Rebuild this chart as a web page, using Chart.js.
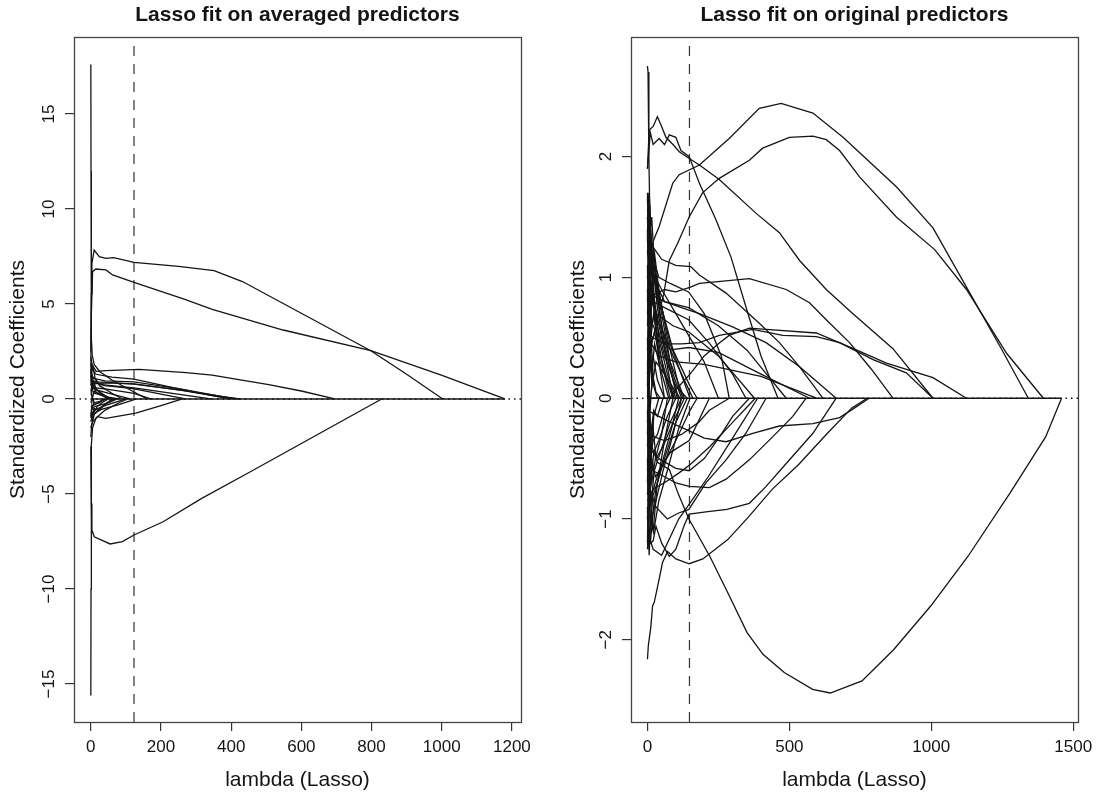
<!DOCTYPE html>
<html>
<head>
<meta charset="utf-8">
<script src="https://cdn.jsdelivr.net/npm/chart.js@4.4.1/dist/chart.umd.min.js"></script>
<style>
  body { margin: 0; background: #fff; }
  #wrap { position: relative; width: 1104px; height: 793px; }
  canvas { position: absolute; top: 0; }
</style>
</head>
<body>
<div id="wrap">
  <canvas id="avgChart" width="552" height="793" style="left:0"></canvas>
  <canvas id="origChart" width="552" height="793" style="left:552px"></canvas>
</div>
<script>
// ---- left panel: lasso on averaged predictors ----
const avgXTicks = [0, 200, 400, 600, 800, 1000, 1200];
const avgYTicks = [-15, -10, -5, 0, 5, 10, 15];
const avgCvLambda = 123;
const avgMaxLambda = 1180;

// [lambda, coefficient] pairs
const avgPathA = [[0, 2.5], [1.5, 5.5], [3, 7.14], [9.5, 7.84], [24, 7.49], [43, 7.4], [65, 7.44], [123, 7.19], [250, 6.98], [351, 6.75], [432, 6.18], [798, 2.54], [900, 1.3], [1003, 0]];
const avgPathB = [[0, 2.0], [1.5, 4.5], [5, 6.7], [14, 6.84], [43, 6.79], [62, 6.53], [123, 6.14], [266, 5.25], [346, 4.72], [548, 3.63], [798, 2.54], [999, 1.26], [1180, 0]];
const avgPathC = [[0, -2.5], [1.5, -5.5], [3, -6.9], [9.7, -7.25], [55, -7.63], [90, -7.51], [123, -7.16], [206, -6.46], [316, -5.23], [447, -3.91], [829, 0]];
const avgPathUp = [[0, 17.6], [0.5, 12], [1, 6], [1.8, 3.2], [4, 2.3], [10, 1.8], [25, 1.45], [60, 1.0], [110, 0.5], [160, 0]];
const avgPathDown = [[0, -15.6], [0.5, -10], [1, -5], [2, -2.4], [5, -1.5], [15, -1.0], [40, -0.6], [80, -0.2], [105, 0]];
const avgPathE = [[0, 2.2], [4, 1.8], [15, 1.45], [43, 1.49], [138, 1.56], [271, 1.39], [346, 1.26], [413, 1.04], [507, 0.76], [600, 0.42], [695, 0]];
const avgMinor = [
  [[0, 2.0], [3, 1.6], [15, 1.3], [60, 1.15], [123, 1.05], [228, 0.62], [361, 0.12], [427, 0]],
  [[0, 1.8], [4, 1.2], [20, 0.9], [123, 0.78], [256, 0.47], [420, 0]],
  [[0, 1.5], [5, 1.0], [30, 0.75], [123, 0.58], [342, 0]],
  [[0, 1.2], [5, 0.9], [40, 0.7], [120, 0.55], [200, 0.25], [270, 0]],
  [[0, 1.0], [8, 0.6], [50, 0.5], [123, 0.3], [171, 0]],
  [[0, 0.8], [10, 0.5], [60, 0.25], [112, 0]],
  [[0, 1.6], [2, 0.9], [15, 0.35], [50, 0.1], [80, 0]],
  [[0, 0.6], [10, 0.3], [40, 0.15], [60, 0]],
  [[0, 1.4], [5, 1.1], [40, 0.95], [123, 0.9], [250, 0.55], [410, 0]],
  [[0, 0.9], [6, 0.8], [50, 0.85], [123, 0.8], [260, 0.45], [400, 0]],
  [[0, -1.5], [5, -1.2], [19, -0.93], [43, -1.02], [128, -0.75], [200, -0.35], [261, 0]],
  [[0, -1.2], [5, -0.8], [30, -0.55], [80, -0.3], [130, 0]],
  [[0, -0.9], [8, -0.6], [40, -0.35], [100, 0]],
  [[0, -0.6], [10, -0.4], [50, -0.2], [75, 0]],
  [[0, -2.0], [2, -1.4], [10, -0.8], [40, -0.3], [60, 0]],
  [[0, -0.4], [15, -0.25], [40, 0]],
  [[0, 0.3], [10, -0.2], [30, -0.1], [45, 0]],
  [[0, -0.2], [10, 0.4], [30, 0.2], [50, 0]],
  [[0, 0.5], [8, -0.3], [25, -0.2], [35, 0]],
  [[0, 1.3], [3, 0.4], [8, 0.9], [16, 0.5], [30, 0.3], [55, 0]],
  [[0, -1.0], [3, -0.3], [9, -0.7], [18, -0.4], [35, -0.15], [50, 0]],
  [[0, 0.7], [4, 1.1], [10, 0.6], [22, 0.4], [45, 0.1], [65, 0]],
  [[0, -0.7], [4, -1.1], [10, -0.5], [20, -0.6], [45, -0.2], [70, 0]],
  [[0, 1.9], [2, 1.4], [6, 1.7], [12, 1.1], [25, 0.7], [60, 0.3], [90, 0]]
];

// ---- right panel: lasso on original predictors ----
const origXTicks = [0, 500, 1000, 1500];
const origYTicks = [-2, -1, 0, 1, 2];
const origCvLambda = 148;
const origMaxLambda = 1459;

const origHumpOuter = [[0, 1.0], [20, 1.3], [41, 1.42], [89, 1.78], [112, 1.85], [183, 1.93], [288, 2.15], [394, 2.40], [471, 2.44], [583, 2.36], [689, 2.16], [877, 1.75], [1006, 1.41], [1124, 0.92], [1242, 0.43], [1342, 0]];
const origHumpInner = [[0, 0.3], [30, 0.6], [58, 0.87], [77, 1.14], [106, 1.28], [147, 1.5], [194, 1.7], [253, 1.82], [359, 1.97], [406, 2.07], [500, 2.16], [583, 2.17], [630, 2.14], [677, 2.05], [748, 1.83], [877, 1.5], [1012, 1.23], [1124, 0.9], [1266, 0.37], [1395, 0]];
const origSteep = [[0, 1.9], [10, 2.2], [20, 2.1], [41, 2.15], [60, 2.1], [77, 2.18], [100, 2.16], [118, 2.05], [147, 2.0], [183, 1.78], [241, 1.48], [294, 1.17], [353, 0.71], [400, 0.35], [460, 0]];
const origLong = [[0, 1.9], [6, 2.22], [20, 2.25], [35, 2.33], [50, 2.25], [65, 2.16], [90, 2.1], [112, 2.04], [150, 1.98], [183, 1.93], [253, 1.81], [383, 1.53], [465, 1.37], [536, 1.14], [630, 0.9], [724, 0.7], [865, 0.41], [1006, 0]];
const origSpike = [[0, 2.75], [2, 2.7], [5, 2.0], [10, 1.3], [20, 0.8], [40, 0.3], [60, 0]];
const origTrough = [[0, -0.3], [35, -0.53], [77, -0.59], [110, -0.8], [146, -1.0], [220, -1.31], [283, -1.61], [351, -1.94], [407, -2.12], [482, -2.27], [582, -2.41], [644, -2.44], [756, -2.34], [868, -2.08], [998, -1.72], [1129, -1.31], [1279, -0.78], [1403, -0.32], [1459, 0]];
const origLow = [[0, -2.16], [3, -2.05], [12, -1.89], [18, -1.72], [24, -1.69], [41, -1.5], [53, -1.36], [71, -1.27], [100, -1.33], [147, -1.37], [195, -1.33], [283, -1.17], [357, -0.98], [441, -0.75], [532, -0.55], [630, -0.3], [720, -0.08], [774, 0]];
const origMid = [
  [[0, 0.6], [20, 0.85], [34, 0.87], [60, 0.9], [100, 0.88], [152, 0.92], [183, 0.95], [359, 0.99], [489, 0.9], [571, 0.79], [630, 0.65], [712, 0.46], [789, 0.24], [865, 0]],
  [[0, 0], [80, 0], [100, 0.07], [150, 0.2], [200, 0.35], [250, 0.45], [288, 0.52], [359, 0.58], [418, 0.57], [595, 0.54], [736, 0.4], [842, 0.29], [1006, 0.17], [1124, 0]],
  [[0, 0.55], [20, 0.5], [60, 0.45], [120, 0.45], [183, 0.46], [253, 0.52], [371, 0.57], [477, 0.52], [595, 0.51], [677, 0.46], [795, 0.32], [912, 0.21], [1006, 0]],
  [[0, 1.4], [20, 1.25], [50, 1.15], [100, 1.1], [152, 1.09], [183, 1.02], [277, 0.87], [394, 0.62], [465, 0.46], [536, 0.26], [618, 0]],
  [[0, 1.5], [15, 1.2], [40, 1.0], [80, 0.95], [145, 0.88], [200, 0.7], [260, 0.35], [288, 0]],
  [[0, 1.1], [20, 0.8], [60, 0.75], [145, 0.65], [220, 0.45], [300, 0.2], [347, 0]],
  [[0, 0.9], [30, 0.7], [90, 0.6], [145, 0.55], [250, 0.35], [377, 0]],
  [[0, 1.3], [20, 1.0], [60, 0.8], [145, 0.75], [250, 0.6], [350, 0.4], [489, 0]],
  [[0, 0.7], [30, 0.55], [80, 0.4], [145, 0.42], [250, 0.38], [400, 0.2], [571, 0]],
  [[0, 0.5], [40, 0.35], [100, 0.3], [200, 0.28], [400, 0.18], [595, 0]],
  [[0, 1.0], [20, 0.85], [60, 0.8], [120, 0.75], [183, 0.7], [300, 0.59], [418, 0.46], [536, 0.26], [665, 0]],
  [[0, 1.2], [15, 1.05], [50, 0.9], [100, 0.7], [150, 0.5], [200, 0.3], [250, 0]],
  [[0, -1.0], [10, -1.2], [20, -1.18], [30, -1.06], [50, -1.2], [77, -1.31], [100, -1.25], [130, -1.05], [147, -0.96], [206, -0.94], [280, -0.92], [359, -0.87], [418, -0.73], [489, -0.54], [583, -0.29], [665, 0]],
  [[0, -0.5], [20, -0.6], [60, -0.65], [100, -0.7], [147, -0.73], [218, -0.74], [277, -0.67], [359, -0.51], [441, -0.32], [512, -0.15], [559, 0]],
  [[0, -0.7], [30, -0.9], [70, -1.0], [110, -0.95], [146, -0.92], [206, -0.7], [277, -0.51], [347, -0.29], [418, 0]],
  [[0, -1.1], [20, -1.25], [50, -1.3], [80, -1.15], [110, -1.0], [146, -0.88], [214, -0.65], [300, -0.33], [388, 0]],
  [[0, -0.1], [40, -0.15], [100, -0.22], [147, -0.27], [200, -0.33], [277, -0.36], [371, -0.29], [465, -0.23], [583, -0.21], [677, -0.16], [730, -0.08], [781, 0]],
  [[0, -0.4], [40, -0.5], [100, -0.58], [147, -0.6], [200, -0.5], [260, -0.3], [300, -0.15], [359, 0]],
  [[0, -0.95], [15, -0.8], [40, -0.6], [80, -0.45], [147, -0.35], [218, 0]],
  [[0, -0.3], [60, -0.35], [120, -0.3], [180, -0.2], [218, -0.1], [288, 0]],
  [[0, -0.85], [20, -0.75], [60, -0.7], [110, -0.62], [150, -0.55], [220, -0.4], [300, -0.2], [380, 0]]
];
const origMinor = [
  [[0, 1.65], [4, 1.3], [8, 1.6], [14, 1.2], [25, 0.8], [40, 0.5], [70, 0.2], [100, 0]],
  [[0, 1.55], [5, 1.7], [10, 1.4], [18, 1.1], [30, 0.9], [50, 0.6], [90, 0.2], [120, 0]],
  [[0, 1.4], [3, 1.0], [8, 1.35], [15, 1.5], [22, 1.2], [35, 0.85], [60, 0.45], [90, 0.15], [110, 0]],
  [[0, 1.2], [5, 1.45], [12, 1.0], [20, 1.25], [30, 0.95], [50, 0.7], [80, 0.3], [130, 0]],
  [[0, 1.0], [6, 1.3], [12, 0.9], [25, 1.1], [45, 0.8], [80, 0.45], [150, 0]],
  [[0, 0.8], [4, 1.1], [10, 0.7], [20, 0.9], [35, 0.6], [60, 0.35], [100, 0.1], [140, 0]],
  [[0, 0.6], [5, 0.9], [12, 0.5], [22, 0.7], [40, 0.4], [70, 0.15], [95, 0]],
  [[0, 0.4], [6, 0.75], [14, 0.45], [25, 0.55], [45, 0.3], [75, 0.1], [90, 0]],
  [[0, 0.2], [5, 0.5], [10, 0.25], [20, 0.35], [35, 0.15], [60, 0]],
  [[0, 0.0], [4, 0.35], [9, -0.1], [18, 0.2], [30, 0.05], [45, 0]],
  [[0, -0.2], [5, 0.1], [12, -0.3], [22, -0.1], [35, -0.15], [55, 0]],
  [[0, -0.4], [4, -0.1], [10, -0.5], [20, -0.35], [35, -0.3], [60, -0.1], [80, 0]],
  [[0, -0.6], [5, -0.3], [12, -0.7], [22, -0.45], [40, -0.35], [70, -0.15], [100, 0]],
  [[0, -0.8], [5, -0.55], [12, -0.9], [24, -0.6], [45, -0.45], [80, -0.2], [120, 0]],
  [[0, -1.0], [4, -0.7], [10, -1.05], [20, -0.8], [35, -0.7], [60, -0.5], [100, -0.2], [140, 0]],
  [[0, -1.1], [6, -1.25], [12, -0.95], [22, -1.1], [40, -0.85], [70, -0.6], [110, -0.25], [150, 0]],
  [[0, -1.25], [4, -1.05], [10, -1.2], [20, -0.95], [35, -0.8], [55, -0.6], [90, -0.3], [120, 0]],
  [[0, -0.9], [3, -1.2], [8, -0.8], [16, -1.0], [30, -0.75], [50, -0.55], [85, -0.25], [110, 0]],
  [[0, 0.9], [3, 0.5], [8, 0.95], [15, 0.6], [28, 0.75], [50, 0.5], [85, 0.2], [105, 0]],
  [[0, 1.5], [4, 1.1], [9, 1.45], [16, 1.05], [25, 1.2], [40, 0.9], [70, 0.5], [110, 0.1], [125, 0]],
  [[0, 1.7], [3, 1.35], [7, 1.65], [12, 1.3], [20, 1.1], [35, 0.75], [60, 0.4], [90, 0]],
  [[0, 0.3], [4, -0.2], [9, 0.4], [16, 0.1], [30, 0.3], [60, 0.2], [100, 0.05], [115, 0]],
  [[0, -0.3], [4, 0.2], [10, -0.45], [18, -0.2], [30, -0.5], [55, -0.4], [90, -0.2], [130, 0]],
  [[0, 0.5], [3, 0.1], [8, 0.6], [15, 0.2], [25, 0.45], [45, 0.25], [75, 0]],
  [[0, -0.5], [3, -0.9], [8, -0.4], [15, -0.7], [28, -0.5], [50, -0.3], [70, 0]],
  [[0, 1.1], [3, 0.7], [7, 1.2], [13, 0.8], [25, 1.0], [50, 0.75], [90, 0.4], [150, 0.1], [175, 0]],
  [[0, -0.7], [3, -0.3], [8, -0.8], [15, -0.5], [28, -0.65], [55, -0.55], [100, -0.35], [150, -0.1], [175, 0]],
  [[0, 0.7], [4, 1.0], [9, 0.6], [18, 0.85], [32, 0.65], [55, 0.55], [90, 0.35], [140, 0.1], [160, 0]],
  [[0, 1.3], [2, 1.6], [6, 1.1], [11, 1.4], [18, 0.9], [30, 0.6], [55, 0.25], [80, 0]],
  [[0, -1.2], [2, -0.9], [6, -1.3], [11, -1.0], [20, -1.1], [35, -0.7], [60, -0.35], [90, 0]],
  [[0, 0.1], [3, 0.6], [7, 0.2], [13, 0.5], [22, 0.1], [35, 0]],
  [[0, -0.1], [3, -0.6], [7, -0.2], [13, -0.5], [22, -0.15], [40, 0]]
];

const FONT = "'Liberation Sans', Arial, Helvetica, sans-serif";
const INK = '#141414';

function fmt(v) {
    return String(v).replace('-', '\u2212');
}

function lineDs(path, extra) {
    return Object.assign({
        data: path.map(p => ({ x: p[0], y: p[1] })),
        showLine: true,
        borderColor: INK,
        borderWidth: 1.3,
        pointRadius: 0,
        tension: 0,
        fill: false
    }, extra || {});
}

// box, title and rotated y tick labels (R style)
const panelDecor = {
    id: 'panelDecor',
    afterDraw(chart, args, opts) {
        const ctx = chart.ctx;
        const a = chart.chartArea;
        ctx.save();
        ctx.strokeStyle = '#444';
        ctx.lineWidth = 1.3;
        ctx.strokeRect(Math.round(a.left) + 0.5, Math.round(a.top) + 0.5, Math.round(a.right - a.left), Math.round(a.bottom - a.top));

        ctx.fillStyle = INK;
        ctx.textAlign = 'center';
        ctx.textBaseline = 'middle';
        ctx.font = 'bold 21px ' + FONT;
        ctx.fillText(opts.title, (a.left + a.right) / 2, 15);

        const ys = chart.scales.y;
        ctx.font = '17px ' + FONT;
        ys.ticks.forEach(t => {
            const py = ys.getPixelForValue(t.value);
            ctx.save();
            ctx.translate(opts.yLabelX, py);
            ctx.rotate(-Math.PI / 2);
            ctx.fillText(fmt(t.value), 0, 0);
            ctx.restore();
        });
        ctx.restore();
    }
};

function makePanel(id, p) {
    const datasets = p.paths.map(path => lineDs(path));
    datasets.push(lineDs([[0, 0], [p.maxLambda, 0]]));
    datasets.push(lineDs([[p.xMin, 0], [p.xMax, 0]], { borderDash: [1.5, 4] }));
    datasets.push(lineDs([[p.cv, p.yMin], [p.cv, p.yMax]], { borderDash: [10, 8], borderColor: '#333', borderWidth: 1.2 }));

    const tickGrid = { display: true, drawOnChartArea: false, drawTicks: true, tickLength: 9, color: '#333', lineWidth: 1.2 };

    new Chart(document.getElementById(id).getContext('2d'), {
        type: 'scatter',
        data: { datasets: datasets },
        options: {
            responsive: false,
            animation: false,
            layout: { padding: { top: 37, right: p.padRight, left: 0, bottom: 0 } },
            plugins: {
                legend: { display: false },
                tooltip: { enabled: false },
                panelDecor: { title: p.title, yLabelX: p.yLabelX }
            },
            scales: {
                x: {
                    type: 'linear',
                    min: p.xMin,
                    max: p.xMax,
                    afterBuildTicks: s => { s.ticks = p.xTicks.map(v => ({ value: v })); },
                    afterFit: s => { s.height = 71; },
                    ticks: { autoSkip: false, maxRotation: 0, padding: 6, color: INK, font: { family: FONT, size: 17 }, callback: v => fmt(v) },
                    grid: tickGrid,
                    border: { display: false },
                    title: { display: true, text: 'lambda (Lasso)', color: INK, font: { family: FONT, size: 21 }, padding: { top: 0, bottom: 0.5 } }
                },
                y: {
                    type: 'linear',
                    min: p.yMin,
                    max: p.yMax,
                    afterBuildTicks: s => { s.ticks = p.yTicks.map(v => ({ value: v })); },
                    afterFit: s => { s.width = p.yWidth; },
                    ticks: { display: false },
                    grid: tickGrid,
                    border: { display: false },
                    title: { display: true, text: 'Standardized Coefficients', color: INK, font: { family: FONT, size: 21 }, padding: { top: p.yTitlePad, bottom: 0 } }
                }
            }
        },
        plugins: [panelDecor]
    });
}

makePanel('avgChart', {
    title: 'Lasso fit on averaged predictors',
    paths: [avgPathA, avgPathB, avgPathC, avgPathUp, avgPathDown, avgPathE].concat(avgMinor),
    xTicks: avgXTicks, yTicks: avgYTicks,
    xMin: -48, xMax: 1226, yMin: -17.0, yMax: 19.05,
    cv: avgCvLambda, maxLambda: avgMaxLambda,
    yWidth: 74, padRight: 31, yTitlePad: 6, yLabelX: 49
});

makePanel('origChart', {
    title: 'Lasso fit on original predictors',
    paths: [origHumpOuter, origHumpInner, origSteep, origLong, origSpike, origTrough, origLow].concat(origMid, origMinor),
    xTicks: origXTicks, yTicks: origYTicks,
    xMin: -58, xMax: 1517, yMin: -2.68, yMax: 2.99,
    cv: origCvLambda, maxLambda: origMaxLambda,
    yWidth: 79, padRight: 26, yTitlePad: 13.4, yLabelX: 54.7
});
</script>
</body>
</html>
